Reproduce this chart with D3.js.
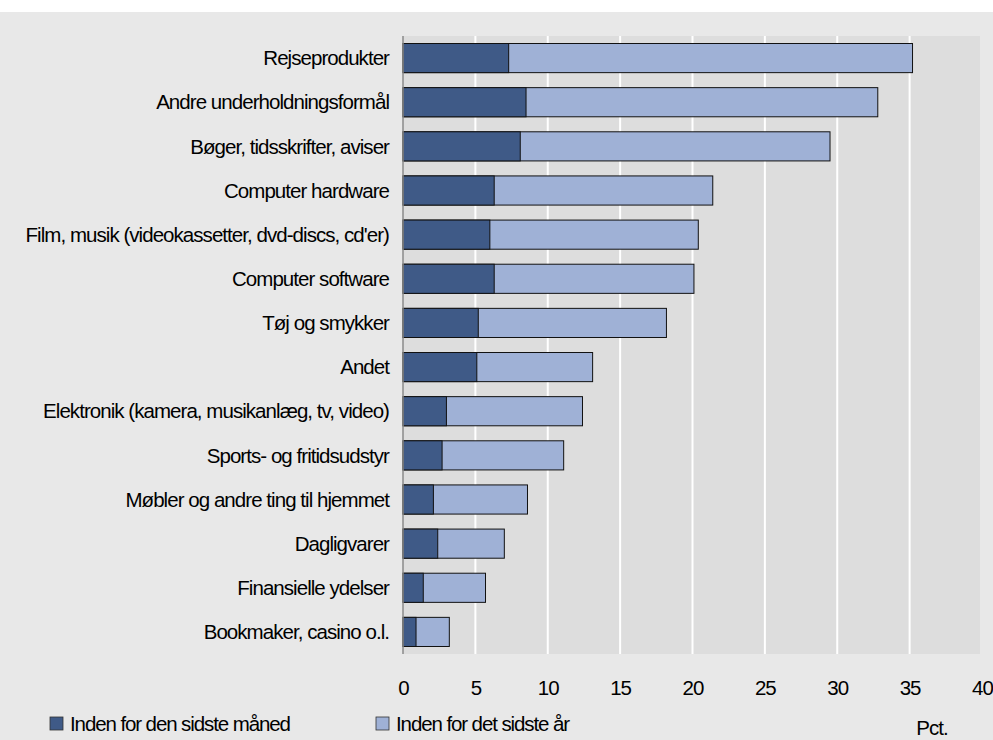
<!DOCTYPE html>
<html><head><meta charset="utf-8">
<script src="https://cdn.jsdelivr.net/npm/d3@7"></script>
<style>body{margin:0;background:#fff;} svg{display:block;}</style>
</head><body>
<script>
const categories = ["Rejseprodukter","Andre underholdningsformål","Bøger, tidsskrifter, aviser","Computer hardware","Film, musik (videokassetter, dvd-discs, cd'er)","Computer software","Tøj og smykker","Andet","Elektronik (kamera, musikanlæg, tv, video)","Sports- og fritidsudstyr","Møbler og andre ting til hjemmet","Dagligvarer","Finansielle ydelser","Bookmaker, casino o.l."];
const lastMonth = [7.3,8.5,8.1,6.3,6.0,6.3,5.2,5.1,3.0,2.7,2.1,2.4,1.4,0.9];
const lastYear = [35.2,32.8,29.5,21.4,20.4,20.1,18.2,13.1,12.4,11.1,8.6,7.0,5.7,3.2];
const seriesNames = ["Inden for den sidste måned","Inden for det sidste år"];
const xTicks = [0,5,10,15,20,25,30,35,40];
const unitLabel = "Pct.";

(function(){
const W=993,H=740;
const font="'Liberation Sans', Arial, sans-serif";
const fs=20.5, ls="-0.95";
const svg=d3.select("body").append("svg").attr("width",W).attr("height",H);
svg.append("rect").attr("x",0).attr("y",12).attr("width",W).attr("height",H-12).attr("fill","#e8e8e8");

const pL=403,pR=982,pT=36,pB=654;
const x=d3.scaleLinear().domain([0,40]).range([pL,pR]);
const y=d3.scaleBand().domain(categories).range([pT,pB]).paddingInner(0.34).paddingOuter(0.17);

svg.append("rect").attr("x",pL).attr("y",pT).attr("width",980-pL).attr("height",pB-pT).attr("fill","#dddddd");

svg.append("g").selectAll("line").data(xTicks.filter(d=>d>0&&d<40)).join("line")
  .attr("x1",d=>x(d)).attr("x2",d=>x(d)).attr("y1",pT).attr("y2",pB)
  .attr("stroke","#ffffff").attr("stroke-width",2);

const colors=["#3f5a87","#9fb1d6"];
const g=svg.append("g");
g.selectAll("rect.y").data(categories).join("rect").attr("class","y")
  .attr("x",x(0)).attr("y",d=>y(d)).attr("height",y.bandwidth())
  .attr("width",(d,i)=>x(lastYear[i])-x(0))
  .attr("fill",colors[1]).attr("stroke","#111").attr("stroke-width",1);
g.selectAll("rect.m").data(categories).join("rect").attr("class","m")
  .attr("x",x(0)).attr("y",d=>y(d)).attr("height",y.bandwidth())
  .attr("width",(d,i)=>x(lastMonth[i])-x(0))
  .attr("fill",colors[0]).attr("stroke","#111").attr("stroke-width",1);

svg.append("line").attr("x1",pL).attr("x2",pL).attr("y1",pT).attr("y2",pB)
  .attr("stroke","#8a8a8a").attr("stroke-width",1.5);

svg.append("g").selectAll("text").data(categories).join("text")
  .attr("x",389).attr("y",d=>y(d)+y.bandwidth()/2).attr("dy","0.35em")
  .attr("text-anchor","end").attr("font-family",font).attr("font-size",fs)
  .attr("letter-spacing",ls).attr("fill","#000").text(d=>d);

const xAxis=d3.axisBottom(x).tickValues(xTicks).tickSize(0).tickPadding(0).tickFormat(d3.format("d"));
const ax=svg.append("g").attr("transform",`translate(0,${680})`).call(xAxis);
ax.select(".domain").remove();
ax.selectAll("text").attr("font-family",font).attr("font-size",fs).attr("letter-spacing",ls).attr("fill","#000");

svg.append("text").attr("x",932).attr("y",735).attr("text-anchor","middle")
  .attr("font-family",font).attr("font-size",fs).attr("letter-spacing",ls).text(unitLabel);

const lx=[50,376];
const lg=svg.append("g").selectAll("g").data(seriesNames).join("g")
  .attr("transform",(d,i)=>`translate(${lx[i]},717)`);
lg.append("rect").attr("width",13).attr("height",13).attr("fill",(d,i)=>colors[i]).attr("stroke","#333").attr("stroke-width",0.8);
lg.append("text").attr("x",20).attr("y",7).attr("dy","0.35em").attr("font-family",font).attr("font-size",fs)
  .attr("letter-spacing","-1.1").text(d=>d);
})();
</script>
</body></html>
